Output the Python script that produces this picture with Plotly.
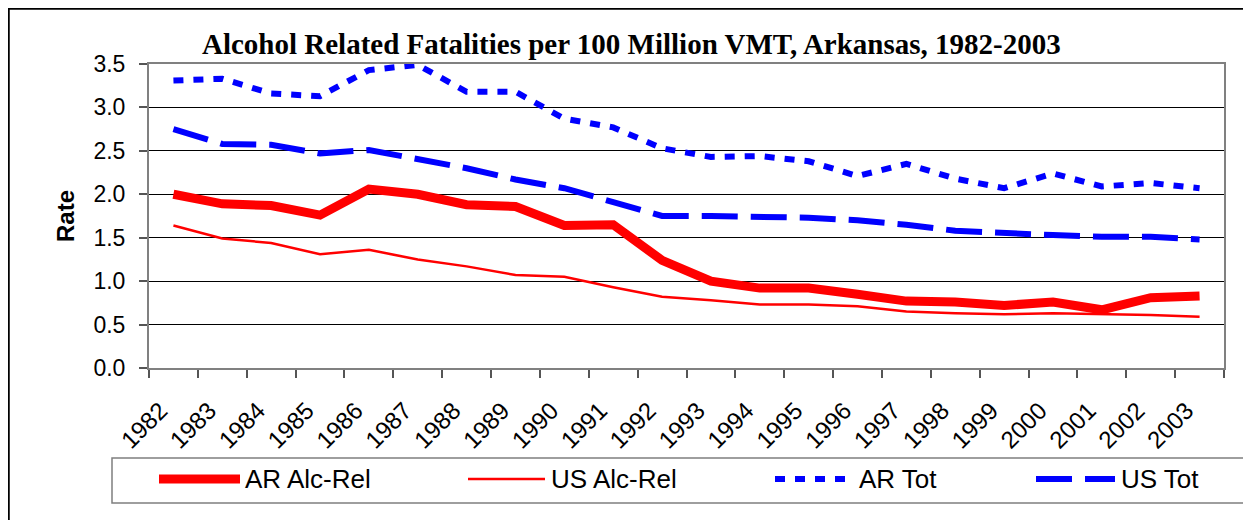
import plotly.graph_objects as go

years = [str(y) for y in range(1982, 2004)]
ar_alc = [2.00, 1.89, 1.87, 1.76, 2.06, 2.00, 1.88, 1.86, 1.64, 1.65, 1.24,
          1.00, 0.92, 0.92, 0.85, 0.77, 0.76, 0.72, 0.76, 0.67, 0.81, 0.83]
us_alc = [1.64, 1.49, 1.44, 1.31, 1.36, 1.25, 1.17, 1.07, 1.05, 0.93, 0.82,
          0.78, 0.73, 0.73, 0.71, 0.65, 0.63, 0.62, 0.63, 0.62, 0.61, 0.59]
ar_tot = [3.31, 3.33, 3.16, 3.13, 3.43, 3.49, 3.18, 3.18, 2.87, 2.77, 2.53,
          2.43, 2.44, 2.38, 2.21, 2.35, 2.18, 2.07, 2.24, 2.09, 2.13, 2.07]
us_tot = [2.75, 2.58, 2.57, 2.47, 2.51, 2.41, 2.30, 2.17, 2.07, 1.91, 1.75,
          1.75, 1.74, 1.73, 1.70, 1.65, 1.58, 1.55, 1.53, 1.51, 1.51, 1.48]
y_ticks = [0.0, 0.5, 1.0, 1.5, 2.0, 2.5, 3.0, 3.5]
series_names = ["AR Alc-Rel", "US Alc-Rel", "AR Tot", "US Tot"]
title_text = "Alcohol Related Fatalities per 100 Million VMT, Arkansas, 1982-2003"

OFF = 8  # page body margin
W, H = 1251 - OFF, 520 - OFF
# plot area in page pixels
PL, PR, PT, PB = 149, 1224, 64, 368
L, R, T, B = PL - OFF, PR - OFF, PT - OFF, PB - OFF


def px(X):
    return (X - PL) / (PR - PL)


def py(Y):
    return (PB - Y) / (PB - PT)


styles = [
    dict(color="#ff0000", width=9, dash="solid"),
    dict(color="#ff0000", width=2.5, dash="solid"),
    dict(color="#0000ff", width=6, dash="10px,10px"),
    dict(color="#0000ff", width=6, dash="36px,13px"),
]

fig = go.Figure()
for name, vals, st in zip(series_names, [ar_alc, us_alc, ar_tot, us_tot], styles):
    fig.add_trace(go.Scatter(x=years, y=vals, mode="lines", name=name,
                             line=st, showlegend=False))

shapes = []
annotations = []
# outer chart border
shapes.append(dict(type="rect", xref="paper", yref="paper",
                   x0=px(OFF + 0.5), x1=px(1400), y0=py(700), y1=py(OFF + 0.5),
                   line=dict(color="black", width=2.5), layer="below"))
# legend box
shapes.append(dict(type="rect", xref="paper", yref="paper",
                   x0=px(112), x1=px(1245), y0=py(503), y1=py(458),
                   line=dict(color="#7f7f7f", width=1.5), fillcolor="white"))
leg_y = py(479)
leg_pos = [(159, 240, 243), (468, 545, 549), (775, 849, 857), (1036, 1115, 1119)]
for name, st, (a, b, t) in zip(series_names, styles, leg_pos):
    shapes.append(dict(type="line", xref="paper", yref="paper",
                       x0=px(a), x1=px(b), y0=leg_y, y1=leg_y,
                       line=dict(color=st["color"], width=st["width"], dash=st["dash"])))
    annotations.append(dict(text=name, xref="paper", yref="paper",
                            x=px(t), y=leg_y, xanchor="left", yanchor="middle",
                            showarrow=False,
                            font=dict(family="Liberation Sans, Arial", size=26, color="black")))

annotations.append(dict(text="<b>" + title_text + "</b>", xref="paper", yref="paper",
                        x=px(631), y=py(44), xanchor="center", yanchor="middle",
                        showarrow=False,
                        font=dict(family="Liberation Serif, Times New Roman", size=29, color="black")))

fig.update_layout(
    width=W, height=H,
    margin=dict(l=L, r=W - R, t=T, b=H - B, pad=0),
    paper_bgcolor="white", plot_bgcolor="white",
    shapes=shapes, annotations=annotations,
    showlegend=False,
    font=dict(family="Liberation Sans, Arial", size=22, color="black"),
)
fig.update_xaxes(
    type="category", tickangle=-45, tickson="boundaries",
    ticks="outside", ticklen=8, tickcolor="#555555", tickwidth=1.5,
    showline=True, linecolor="#808080", linewidth=2, mirror=True,
    showgrid=False, tickfont=dict(size=24),
    ticklabelstandoff=17, ticklabelshift=-13,
    range=[-0.5, len(years) - 0.5],
)
fig.update_yaxes(
    range=[0, 3.5], tickvals=y_ticks, ticktext=[f"{v:.1f}" for v in y_ticks],
    ticks="outside", ticklen=8, tickcolor="#555555", tickwidth=1.5,
    showline=True, linecolor="#808080", linewidth=2, mirror=True,
    showgrid=True, gridcolor="black", gridwidth=1,
    zeroline=False, tickfont=dict(size=23), ticklabelstandoff=9,
    title=dict(text="<b>Rate</b>", font=dict(size=24), standoff=12),
)

fig.write_html("out.html")
